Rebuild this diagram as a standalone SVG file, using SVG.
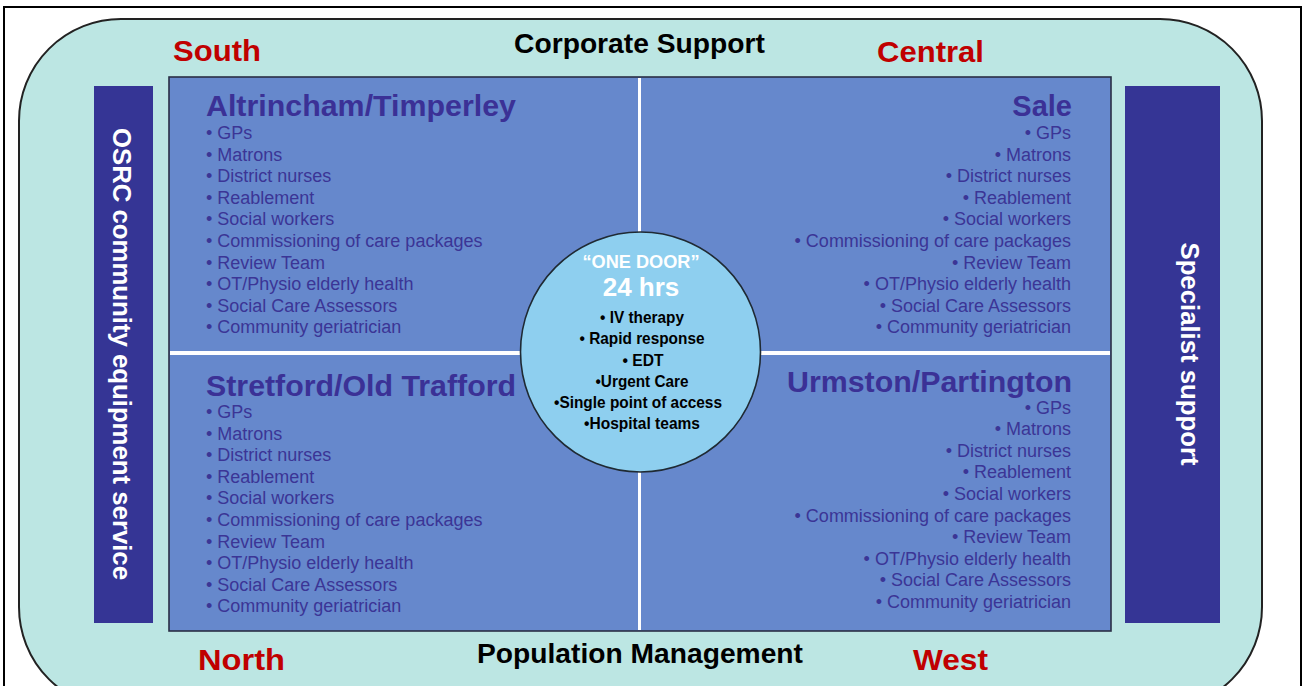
<svg xmlns="http://www.w3.org/2000/svg" width="1305" height="686" viewBox="0 0 1305 686">
  <style>
    .red { font-family: "Liberation Sans", Arial, sans-serif; font-weight: bold; font-size: 30px; fill: #c00000; }
    .band { font-family: "Liberation Sans", Arial, sans-serif; font-weight: bold; font-size: 27.5px; fill: #000; }
    .side { font-family: "Liberation Sans", Arial, sans-serif; font-weight: bold; font-size: 25.5px; fill: #fff; }
    .head { font-family: "Liberation Sans", Arial, sans-serif; font-weight: bold; font-size: 29px; fill: #3b3196; }
    .item { font-family: "Liberation Sans", Arial, sans-serif; font-size: 18px; fill: #3b3596; }
    .r { text-anchor: end; }
    .door { font-family: "Liberation Sans", Arial, sans-serif; font-weight: bold; fill: #fff; text-anchor: middle; }
    .svc { font-family: "Liberation Sans Narrow", "Liberation Sans", Arial, sans-serif; font-weight: bold; font-size: 16.5px; fill: #000; text-anchor: middle; }
  </style>

  <rect x="0" y="0" width="1305" height="686" fill="#fff"/>
  <!-- outer frame -->
  <rect x="4" y="7" width="1297" height="700" fill="none" stroke="#000" stroke-width="2"/>

  <!-- rounded background -->
  <g id="background">
    <rect x="19" y="19" width="1243" height="690" rx="102" ry="102" fill="#bce6e3" stroke="#222" stroke-width="2"/>
  </g>

  <!-- side bars -->
  <g id="osrc">
    <rect x="94" y="86" width="59" height="537" fill="#353595"/>
    <text class="side" transform="translate(113,354) rotate(90)" text-anchor="middle" textLength="452" lengthAdjust="spacingAndGlyphs">OSRC community equipment service</text>
  </g>
  <g id="specialist">
    <rect x="1125" y="86" width="95" height="537" fill="#353595"/>
    <text class="side" transform="translate(1181,354) rotate(90)" text-anchor="middle" textLength="223" lengthAdjust="spacingAndGlyphs">Specialist support</text>
  </g>

  <!-- central grid -->
  <g id="grid">
    <rect x="169" y="77" width="942" height="554" fill="#6688cc" stroke="#2a2f45" stroke-width="1.6"/>
    <rect x="638" y="78" width="3" height="552" fill="#fff"/>
    <rect x="170" y="351" width="940" height="4" fill="#fff"/>
  </g>

  <!-- band labels -->
  <g id="labels">
    <text class="red" x="173" y="61" textLength="88" lengthAdjust="spacingAndGlyphs">South</text>
    <text class="red" x="877" y="62" textLength="107" lengthAdjust="spacingAndGlyphs">Central</text>
    <text class="red" x="198" y="670" textLength="87" lengthAdjust="spacingAndGlyphs">North</text>
    <text class="red" x="913" y="670" textLength="75" lengthAdjust="spacingAndGlyphs">West</text>
    <text class="band" x="514" y="53" textLength="251" lengthAdjust="spacingAndGlyphs">Corporate Support</text>
    <text class="band" x="477" y="663" textLength="326" lengthAdjust="spacingAndGlyphs">Population Management</text>
  </g>

  <!-- South quadrant -->
  <g id="altrincham">
    <text class="head" x="206" y="116" textLength="310" lengthAdjust="spacingAndGlyphs">Altrincham/Timperley</text>
    <text class="item" x="206" y="139">• GPs</text>
    <text class="item" x="206" y="160.5">• Matrons</text>
    <text class="item" x="206" y="182">• District nurses</text>
    <text class="item" x="206" y="203.5">• Reablement</text>
    <text class="item" x="206" y="225">• Social workers</text>
    <text class="item" x="206" y="247">• Commissioning of care packages</text>
    <text class="item" x="206" y="268.5">• Review Team</text>
    <text class="item" x="206" y="290">• OT/Physio elderly health</text>
    <text class="item" x="206" y="311.5">• Social Care Assessors</text>
    <text class="item" x="206" y="333">• Community geriatrician</text>
  </g>

  <!-- Central quadrant -->
  <g id="sale">
    <text class="head r" x="1072" y="116">Sale</text>
    <text class="item r" x="1071" y="139">• GPs</text>
    <text class="item r" x="1071" y="160.5">• Matrons</text>
    <text class="item r" x="1071" y="182">• District nurses</text>
    <text class="item r" x="1071" y="203.5">• Reablement</text>
    <text class="item r" x="1071" y="225">• Social workers</text>
    <text class="item r" x="1071" y="247">• Commissioning of care packages</text>
    <text class="item r" x="1071" y="268.5">• Review Team</text>
    <text class="item r" x="1071" y="290">• OT/Physio elderly health</text>
    <text class="item r" x="1071" y="311.5">• Social Care Assessors</text>
    <text class="item r" x="1071" y="333">• Community geriatrician</text>
  </g>

  <!-- North quadrant -->
  <g id="stretford">
    <text class="head" x="206" y="396" textLength="310" lengthAdjust="spacingAndGlyphs">Stretford/Old Trafford</text>
    <text class="item" x="206" y="418">• GPs</text>
    <text class="item" x="206" y="439.5">• Matrons</text>
    <text class="item" x="206" y="461">• District nurses</text>
    <text class="item" x="206" y="482.5">• Reablement</text>
    <text class="item" x="206" y="504">• Social workers</text>
    <text class="item" x="206" y="526">• Commissioning of care packages</text>
    <text class="item" x="206" y="547.5">• Review Team</text>
    <text class="item" x="206" y="569">• OT/Physio elderly health</text>
    <text class="item" x="206" y="590.5">• Social Care Assessors</text>
    <text class="item" x="206" y="612">• Community geriatrician</text>
  </g>

  <!-- West quadrant -->
  <g id="urmston">
    <text class="head r" x="1072" y="392" textLength="285" lengthAdjust="spacingAndGlyphs">Urmston/Partington</text>
    <text class="item r" x="1071" y="413.5">• GPs</text>
    <text class="item r" x="1071" y="435">• Matrons</text>
    <text class="item r" x="1071" y="456.5">• District nurses</text>
    <text class="item r" x="1071" y="478">• Reablement</text>
    <text class="item r" x="1071" y="499.5">• Social workers</text>
    <text class="item r" x="1071" y="521.5">• Commissioning of care packages</text>
    <text class="item r" x="1071" y="543">• Review Team</text>
    <text class="item r" x="1071" y="564.5">• OT/Physio elderly health</text>
    <text class="item r" x="1071" y="586">• Social Care Assessors</text>
    <text class="item r" x="1071" y="607.5">• Community geriatrician</text>
  </g>

  <!-- hub circle -->
  <g id="one-door">
    <circle cx="640.5" cy="352" r="120" fill="#8ecfef" stroke="#1f2a33" stroke-width="1.6"/>
    <text class="door" x="641" y="268" font-size="18" textLength="117" lengthAdjust="spacingAndGlyphs">“ONE DOOR”</text>
    <text class="door" x="641" y="296" font-size="26">24 hrs</text>
    <text class="svc" x="642" y="323" textLength="84" lengthAdjust="spacingAndGlyphs">• IV therapy</text>
    <text class="svc" x="642" y="344" textLength="125" lengthAdjust="spacingAndGlyphs">• Rapid response</text>
    <text class="svc" x="643" y="366" textLength="41" lengthAdjust="spacingAndGlyphs">• EDT</text>
    <text class="svc" x="642" y="387" textLength="93" lengthAdjust="spacingAndGlyphs">•Urgent Care</text>
    <text class="svc" x="638" y="408" textLength="168" lengthAdjust="spacingAndGlyphs">•Single point of access</text>
    <text class="svc" x="642" y="429" textLength="116" lengthAdjust="spacingAndGlyphs">•Hospital teams</text>
  </g>
</svg>
